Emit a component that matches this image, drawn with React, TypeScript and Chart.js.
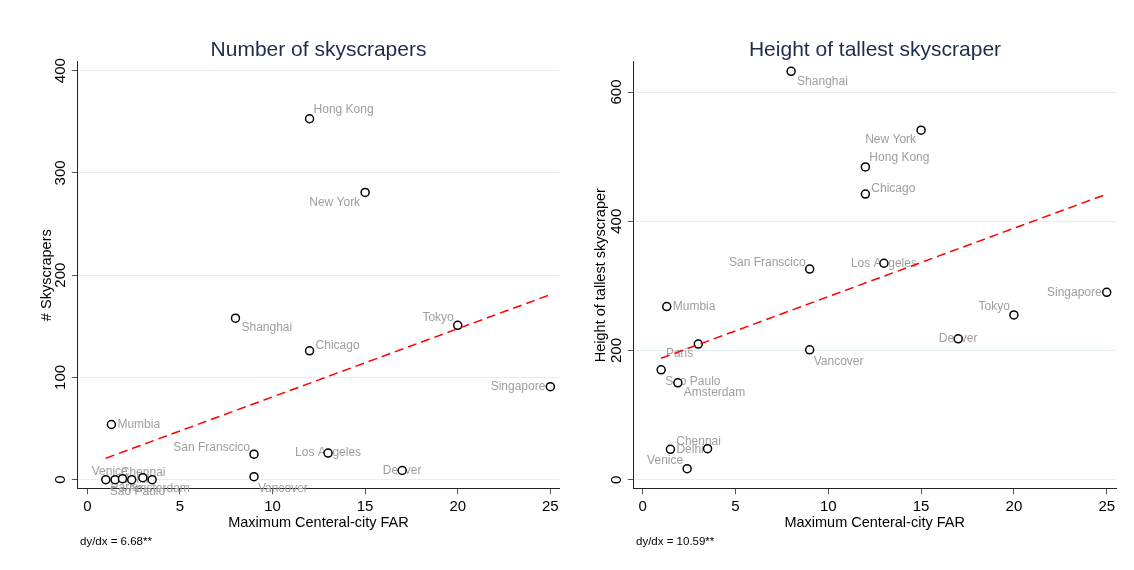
import React, { useEffect, useRef } from "react";
import { Chart, registerables } from "chart.js";

Chart.register(...registerables);

const FONT = "'Liberation Sans', Arial, Helvetica, sans-serif";
Chart.defaults.font.family = FONT;
Chart.defaults.color = "#000";

// ---------- data ----------
const cities = [
  "Hong Kong", "New York", "Shanghai", "Tokyo", "Chicago", "Singapore", "Mumbia",
  "San Franscico", "Los Angeles", "Vancover", "Denver", "Venice", "Delhi",
  "Sao Paulo", "Paris", "Chennai", "Amsterdam",
];
const maxFAR = [12, 15, 8, 20, 12, 25, 1.3, 9, 13, 9, 17, 2.4, 1.5, 1.0, 3.0, 3.5, 1.9];
const skyscraperCount = [353, 281, 158, 151, 126, 91, 54, 25, 26, 3, 9, 0, 0, 0, 2, 0, 1];
const tallestHeight = [484, 541, 632, 255, 442, 290, 268, 326, 335, 201, 218, 17, 47, 170, 210, 48, 150];
// marker label clock positions (Stata-style)
const labelClock = [1, 7, 4, 11, 2, 9, 3, 10, 0, 5, 0, 11, 3, 5, 7, 12, 4];

const fitFAR = [1, 25];
const fitCount = [21, 181];
const fitHeight = [188, 442];

const xTicks = [0, 5, 10, 15, 20, 25];
const countTicks = [0, 100, 200, 300, 400];
const heightTicks = [0, 200, 400, 600];

const CLOCK: Record<number, [CanvasTextAlign, number, number]> = {
  0: ["center", 0, 0],
  1: ["left", 4, -9],
  2: ["left", 6, -5],
  3: ["left", 6, 0],
  4: ["left", 6, 10],
  5: ["left", 4, 12],
  7: ["right", -5, 10],
  9: ["right", -5, 0],
  10: ["right", -4, -6],
  11: ["right", -4, -8],
  12: ["center", -9, -7],
};

const cityLabelPlugin = {
  id: "cityLabels",
  beforeDatasetsDraw(chart: any) {
    const meta = chart.getDatasetMeta(1);
    const ctx = chart.ctx;
    ctx.save();
    ctx.font = `12px ${FONT}`;
    ctx.fillStyle = "#9e9e9e";
    ctx.textBaseline = "middle";
    meta.data.forEach((pt: any, i: number) => {
      const [align, dx, dy] = CLOCK[labelClock[i]];
      ctx.textAlign = align;
      ctx.fillText(cities[i], pt.x + dx, pt.y + dy);
    });
    ctx.restore();
  },
  afterDraw(chart: any, _args: any, opts: any) {
    const ctx = chart.ctx;
    ctx.save();
    ctx.font = `21px ${FONT}`;
    ctx.fillStyle = "#1e2c4c";
    ctx.textAlign = "center";
    ctx.textBaseline = "alphabetic";
    ctx.fillText(opts.title, opts.titleX, 56);
    ctx.font = `11.5px ${FONT}`;
    ctx.fillStyle = "#000";
    ctx.textAlign = "left";
    ctx.textBaseline = "middle";
    ctx.fillText(opts.note, opts.noteX, 542);
    ctx.restore();
  },
};

type PanelCfg = {
  values: number[];
  fitY: number[];
  yTicks: number[];
  xMin: number;
  xMax: number;
  yMin: number;
  yMax: number;
  yTitle: string;
  padLeft: number;
  padRight: number;
  yWidth: number;
  title: string;
  titleX: number;
  note: string;
  noteX: number;
};

function buildChart(canvas: HTMLCanvasElement, c: PanelCfg) {
  return new Chart(canvas, {
    type: "scatter",
    data: {
      datasets: [
        {
          type: "line",
          data: fitFAR.map((x, i) => ({ x, y: c.fitY[i] })),
          borderColor: "#ff0000",
          borderWidth: 1.5,
          borderDash: [9, 5],
          pointRadius: 0,
          fill: false,
          tension: 0,
        } as any,
        {
          type: "scatter",
          data: maxFAR.map((x, i) => ({ x, y: c.values[i] })),
          pointStyle: "circle",
          pointRadius: 4,
          pointBackgroundColor: "#ffffff",
          pointBorderColor: "#000000",
          pointBorderWidth: 1.5,
        } as any,
      ],
    },
    options: {
      responsive: false,
      animation: false,
      devicePixelRatio: 1,
      layout: { padding: { left: c.padLeft, right: c.padRight, top: 61.7, bottom: 38.3 } },
      plugins: {
        legend: { display: false },
        tooltip: { enabled: false },
        title: { display: false },
        cityLabels: { title: c.title, titleX: c.titleX, note: c.note, noteX: c.noteX },
      } as any,
      scales: {
        x: {
          type: "linear",
          min: c.xMin,
          max: c.xMax,
          afterBuildTicks: (s: any) => {
            s.ticks = xTicks.map((v) => ({ value: v }));
          },
          afterFit: (s: any) => {
            s.height = 43;
          },
          grid: { drawOnChartArea: false, drawTicks: true, tickLength: 5.5, tickColor: "#555" },
          border: { display: true, color: "#222", width: 1 },
          ticks: { font: { size: 15 }, color: "#000", padding: 4, includeBounds: false },
          title: {
            display: true,
            text: "Maximum Centeral-city FAR",
            font: { size: 14.5 },
            color: "#000",
            padding: 0,
          },
        },
        y: {
          type: "linear",
          min: c.yMin,
          max: c.yMax,
          afterBuildTicks: (s: any) => {
            s.ticks = c.yTicks.map((v) => ({ value: v }));
          },
          afterFit: (s: any) => {
            s.width = c.yWidth;
          },
          grid: { color: "#e4edef", lineWidth: 1, drawTicks: true, tickLength: 5.5, tickColor: "#555" },
          border: { display: true, color: "#222", width: 1 },
          ticks: {
            font: { size: 15 },
            color: "#000",
            padding: -1.5,
            minRotation: 90,
            maxRotation: 90,
            crossAlign: "center",
            includeBounds: false,
          },
          title: {
            display: true,
            text: c.yTitle,
            font: { size: 14.5 },
            color: "#000",
            padding: 0,
          },
        },
      },
    },
    plugins: [cityLabelPlugin as any],
  });
}

function Panel({ cfg, left }: { cfg: PanelCfg; left: number }) {
  const ref = useRef<HTMLCanvasElement | null>(null);
  useEffect(() => {
    if (!ref.current) return;
    const chart = buildChart(ref.current, cfg);
    return () => chart.destroy();
  }, []);
  return (
    <canvas
      ref={ref}
      width={567}
      height={570}
      style={{ position: "absolute", left, top: 0, width: 567, height: 570 }}
    />
  );
}

const leftCfg: PanelCfg = {
  values: skyscraperCount,
  fitY: fitCount,
  yTicks: countTicks,
  xMin: -0.54,
  xMax: 25.5,
  yMin: -8.8,
  yMax: 408.8,
  yTitle: "# Skyscrapers",
  padLeft: 38.3,
  padRight: 7.4,
  yWidth: 39,
  title: "Number of skyscrapers",
  titleX: 318.5,
  note: "dy/dx = 6.68**",
  noteX: 80,
};

const rightCfg: PanelCfg = {
  values: tallestHeight,
  fitY: fitHeight,
  yTicks: heightTicks,
  xMin: -0.5,
  xMax: 25.5,
  yMin: -13.9,
  yMax: 646.9,
  yTitle: "Height of tallest skyscraper",
  padLeft: 25.3,
  padRight: 18,
  yWidth: 41,
  title: "Height of tallest skyscraper",
  titleX: 308,
  note: "dy/dx = 10.59**",
  noteX: 69,
};

export default function App() {
  return (
    <div
      style={{
        position: "fixed",
        left: 0,
        top: 0,
        width: 1134,
        height: 570,
        background: "#ffffff",
        overflow: "hidden",
      }}
    >
      <Panel cfg={leftCfg} left={0} />
      <Panel cfg={rightCfg} left={567} />
    </div>
  );
}
